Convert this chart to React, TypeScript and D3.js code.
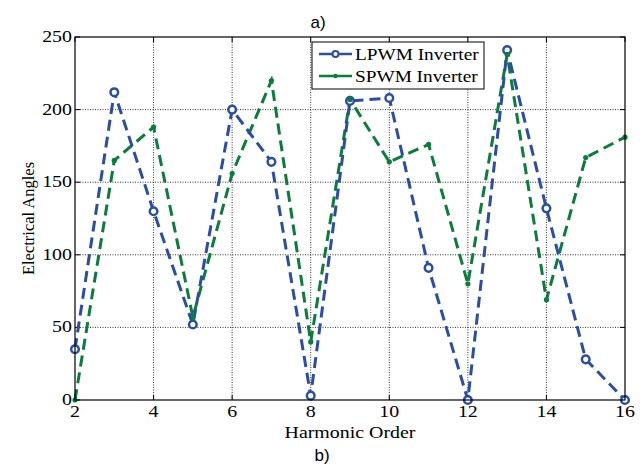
import React from "react";
import * as d3 from "d3";

const harmonics = [2, 3, 4, 5, 6, 7, 8, 9, 10, 11, 12, 13, 14, 15, 16];
const lpwm = [35, 212, 130, 52, 200, 164, 3, 206, 208, 91, 0, 241, 132, 28, 0];
const spwm = [0, 165, 188, 57, 156, 220, 40, 207, 164, 176, 80, 238, 69, 167, 181];
const xTicks = [2, 4, 6, 8, 10, 12, 14, 16];
const yTicks = [0, 50, 100, 150, 200, 250];
const seriesNames = ["LPWM Inverter", "SPWM Inverter"];

const W = 642, H = 466;
const L = 75, R = 625, T = 37, B = 400;
const BLUE = "#2a4ea6";
const GREEN = "#0a7c3c";
const serif = "'Liberation Serif', 'Times New Roman', serif";
const sans = "'Liberation Sans', Arial, sans-serif";
const SX = 1.17;

function T2({ x, y, anchor, size, family, children }: any) {
  return (
    <text transform={`translate(${x},${y}) scale(${SX},1)`} textAnchor={anchor} fontFamily={family} fontSize={size} fill="#000">
      {children}
    </text>
  );
}

export default function App() {
  const x = d3.scaleLinear().domain([2, 16]).range([L, R]);
  const y = d3.scaleLinear().domain([0, 250]).range([B, T]);
  const line = d3.line<number>().x((_, i) => x(harmonics[i])).y((d) => y(d));
  const tickLen = 5;
  return (
    <svg width={W} height={H} style={{ position: "absolute", left: 0, top: 0, background: "#fff" }}>
      <rect x={0} y={0} width={W} height={H} fill="#fff" />
      {xTicks.slice(1, -1).map((t) => (
        <line key={"gx" + t} x1={x(t)} x2={x(t)} y1={T} y2={B} stroke="#000" strokeWidth={0.8} strokeDasharray="1,1.5" />
      ))}
      {yTicks.slice(1, -1).map((t) => (
        <line key={"gy" + t} x1={L} x2={R} y1={y(t)} y2={y(t)} stroke="#000" strokeWidth={0.8} strokeDasharray="1,1.5" />
      ))}
      {xTicks.map((t) => (
        <g key={"tx" + t}>
          <line x1={x(t)} x2={x(t)} y1={B} y2={B - tickLen} stroke="#000" />
          <line x1={x(t)} x2={x(t)} y1={T} y2={T + tickLen} stroke="#000" />
          <T2 x={x(t)} y={B + 17} anchor="middle" size={17} family={serif}>{t}</T2>
        </g>
      ))}
      {yTicks.map((t) => (
        <g key={"ty" + t}>
          <line x1={L} x2={L + tickLen} y1={y(t)} y2={y(t)} stroke="#000" />
          <line x1={R} x2={R - tickLen} y1={y(t)} y2={y(t)} stroke="#000" />
          <T2 x={L - 3} y={y(t) + 5} anchor="end" size={17} family={serif}>{t}</T2>
        </g>
      ))}
      <path d={line(spwm) || ""} fill="none" stroke={GREEN} strokeWidth={3} strokeDasharray="11,6" />
      <path d={line(lpwm) || ""} fill="none" stroke={BLUE} strokeWidth={3} strokeDasharray="11,6" />
      {lpwm.map((v, i) => (
        <circle key={"lp" + i} cx={x(harmonics[i])} cy={y(v)} r={3.8} fill="#fff" stroke={BLUE} strokeWidth={2.5} />
      ))}
      {spwm.map((v, i) => (
        <circle key={"sp" + i} cx={x(harmonics[i])} cy={y(v)} r={2.6} fill={GREEN} stroke="none" />
      ))}
      <rect x={L} y={T} width={R - L} height={B - T} fill="none" stroke="#000" strokeWidth={1.2} />
      <g>
        <rect x={312} y={42} width={172} height={47} fill="#fff" stroke="#000" strokeWidth={1} />
        <line x1={319} x2={352} y1={54} y2={54} stroke={BLUE} strokeWidth={2.5} />
        <circle cx={335.5} cy={54} r={3} fill="#fff" stroke={BLUE} strokeWidth={2} />
        <T2 x={355} y={60} anchor="start" size={16.5} family={serif}>{seriesNames[0]}</T2>
        <line x1={319} x2={352} y1={76} y2={76} stroke={GREEN} strokeWidth={2.5} />
        <circle cx={335.5} cy={76} r={2.2} fill={GREEN} />
        <T2 x={355} y={82} anchor="start" size={16.5} family={serif}>{seriesNames[1]}</T2>
      </g>
      <T2 x={x(9)} y={438} anchor="middle" size={17} family={serif}>Harmonic Order</T2>
      <text transform={`translate(34,${(T + B) / 2}) rotate(-90)`} textAnchor="middle" fontFamily={serif} fontSize={16.5} fill="#000">Electrical Angles</text>
      <text x={318} y={28} textAnchor="middle" fontFamily={sans} fontSize={17} fill="#000">a)</text>
      <text x={322} y={461} textAnchor="middle" fontFamily={sans} fontSize={17} fill="#000">b)</text>
    </svg>
  );
}
